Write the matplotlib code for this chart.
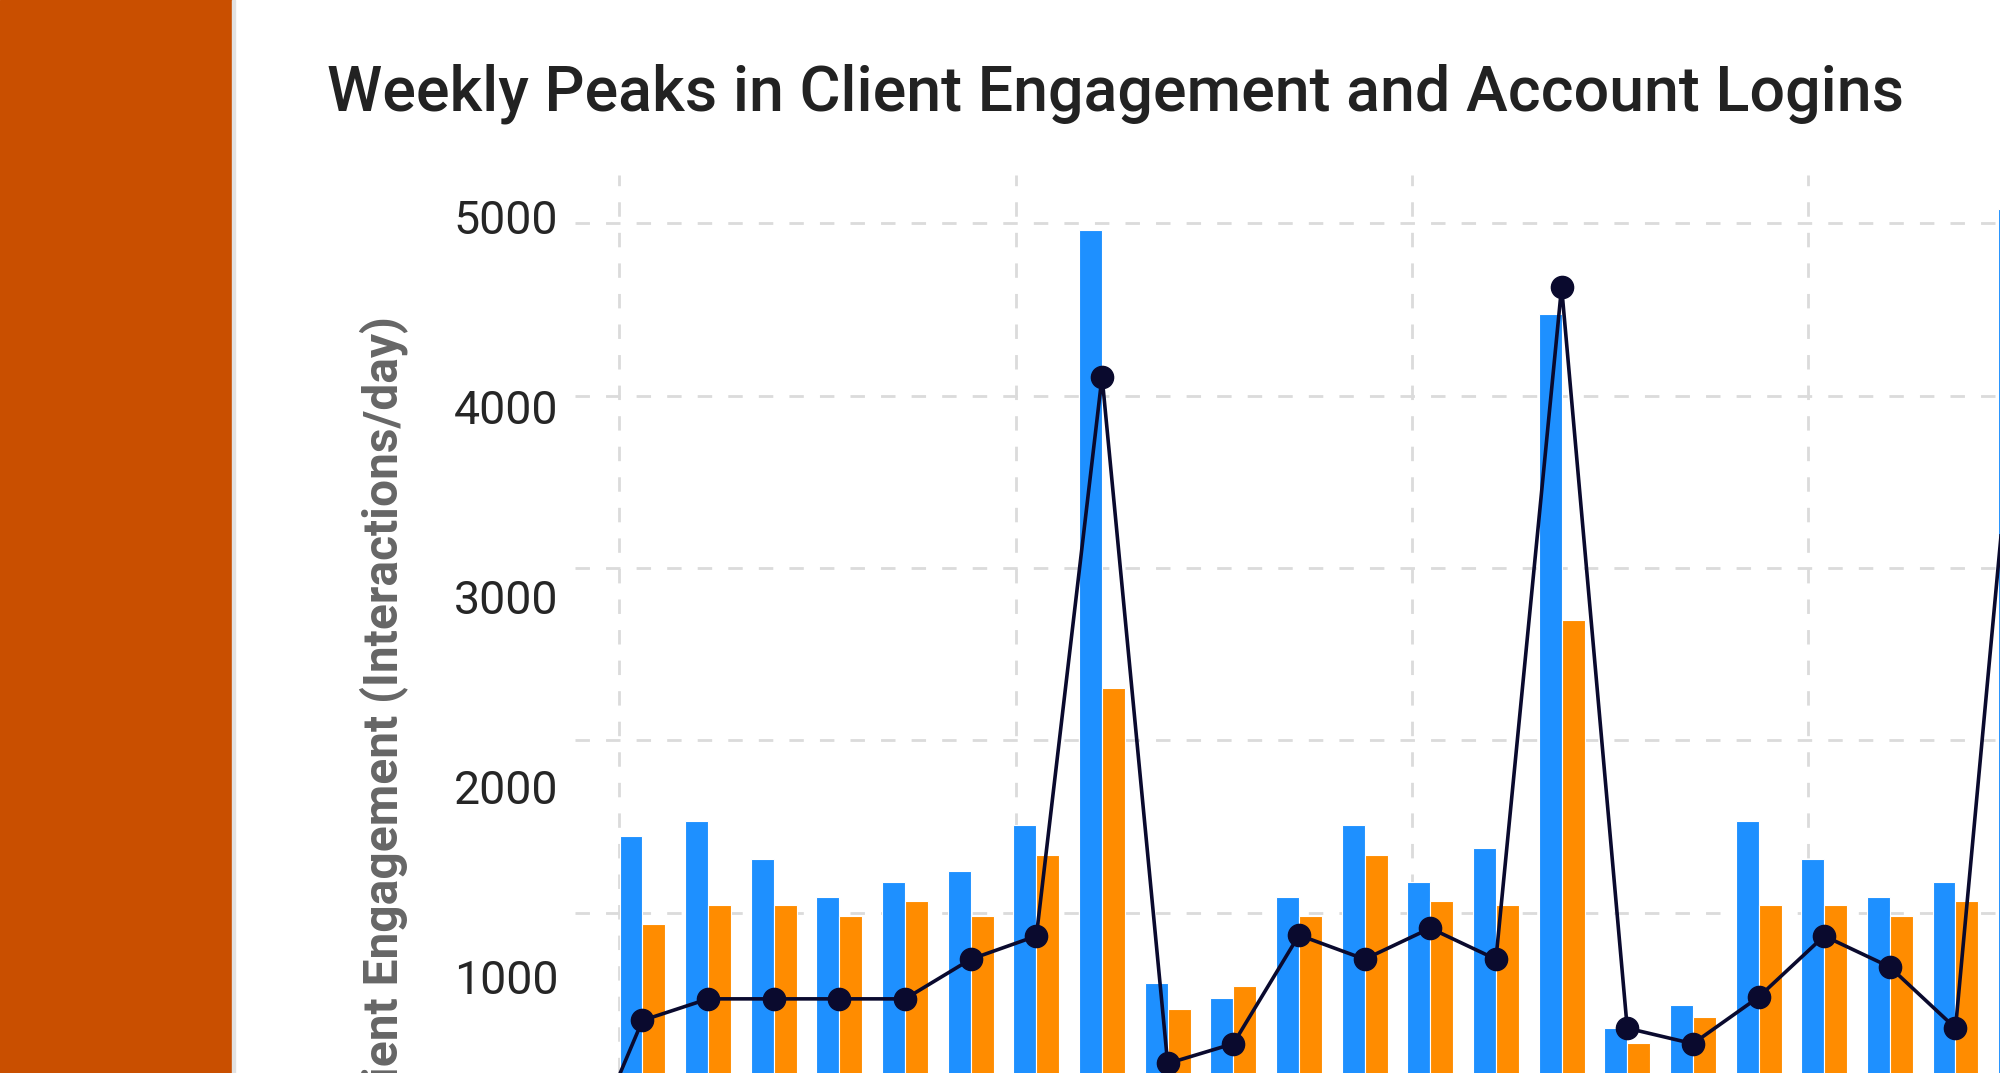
import numpy as np
import matplotlib.pyplot as plt
from matplotlib.patches import Rectangle

# daily values (day 0 sits just left of the visible area)
days = np.arange(23)
engagement = [420, 1740, 1820, 1620, 1420, 1500, 1560, 1800, 4930, 970, 890, 1420,
              1800, 1500, 1680, 4490, 730, 850, 1820, 1620, 1420, 1500, 5040]
sessions = [310, 1280, 1380, 1380, 1320, 1400, 1320, 1640, 2520, 830, 950, 1320,
            1640, 1400, 1380, 2880, 650, 790, 1380, 1380, 1320, 1400, 2700]
logins = [95, 275, 300, 300, 300, 300, 346, 373, 1022, 225, 248, 374,
          346, 382, 346, 1126, 266, 248, 302, 373, 337, 266, 1090]

left_ticks = [1000, 2000, 3000, 4000, 5000]
right_ticks = [400, 600, 800, 1000, 1200]
week_ticks = [1, 7, 13, 19, 25]

w = 0.35
blue = '#1e90ff'
orange = '#ff8c00'
navy = '#0a0a2e'
grid_col = '#dbdbdb'

fig = plt.figure(figsize=(20, 10.73), dpi=100)
fig.patches.append(Rectangle((0, 0), 232 / 2000, 1, transform=fig.transFigure,
                             color='#c94f00', zorder=0))
fig.patches.append(Rectangle((232 / 2000, 0), 3 / 2000, 1, transform=fig.transFigure,
                             color='#e2e2e2', zorder=0))

# the plot area runs past the right and bottom edges of the picture
rect = [575 / 2000, (1073 - 1167) / 1073, 1675 / 2000, (1167 - 175) / 1073]

# back layer: only the dashed grid (calendar ticks + logins scale)
ax_grid = fig.add_axes(rect)
ax_grid.set_xlim(0.3263, 25.686)
ax_grid.set_ylim(104.9, 1256.0)
ax_grid.set_xticks(week_ticks)
ax_grid.set_yticks(right_ticks)
ax_grid.grid(True, axis='y', color=grid_col, linewidth=2.0, linestyle=(0, (5.2, 5.8)))
ax_grid.grid(True, axis='x', color=grid_col, linewidth=2.0, linestyle=(10.2, (5.2, 5.8)))
ax_grid.tick_params(length=0, labelleft=False, labelbottom=False)
for s in ax_grid.spines.values():
    s.set_visible(False)

# bars
ax = fig.add_axes(rect)
ax.patch.set_visible(False)
ax.bar(days, engagement, width=w, align='edge', color=blue, edgecolor='white', linewidth=0.8)
ax.bar(days + w, sessions, width=w, align='edge', color=orange, edgecolor='white', linewidth=0.8)
ax.set_xlim(0.322, 25.836)
ax.set_ylim(0, 5221)
ax.set_yticks(left_ticks)
ax.set_xticks([])
ax.tick_params(axis='y', length=0, pad=12, labelsize=33.5, labelcolor='#262626')
for lab in ax.get_yticklabels():
    lab.set_family('Roboto')
for s in ax.spines.values():
    s.set_visible(False)

# logins line on the right scale
ax2 = ax.twinx()
ax2.plot(days + w, logins, color=navy, linewidth=2.6, marker='o', markersize=16)
ax2.set_ylim(104.9, 1256.0)
ax2.set_yticks(right_ticks)
ax2.tick_params(length=0, labelright=False)
for s in ax2.spines.values():
    s.set_visible(False)

fig.text(327 / 2000, 1 - 110 / 1073, 'Weekly Peaks in Client Engagement and Account Logins',
         ha='left', va='baseline', fontsize=45.2, fontweight='medium', color='#222222',
         family='Roboto')
fig.text(384 / 2000, 1 - 316 / 1073, 'Client Engagement (Interactions/day)',
         rotation=90, ha='center', va='top', fontsize=34.5, fontweight='bold',
         color='#666666', family='Roboto')

fig.savefig('out.png', dpi=100)
